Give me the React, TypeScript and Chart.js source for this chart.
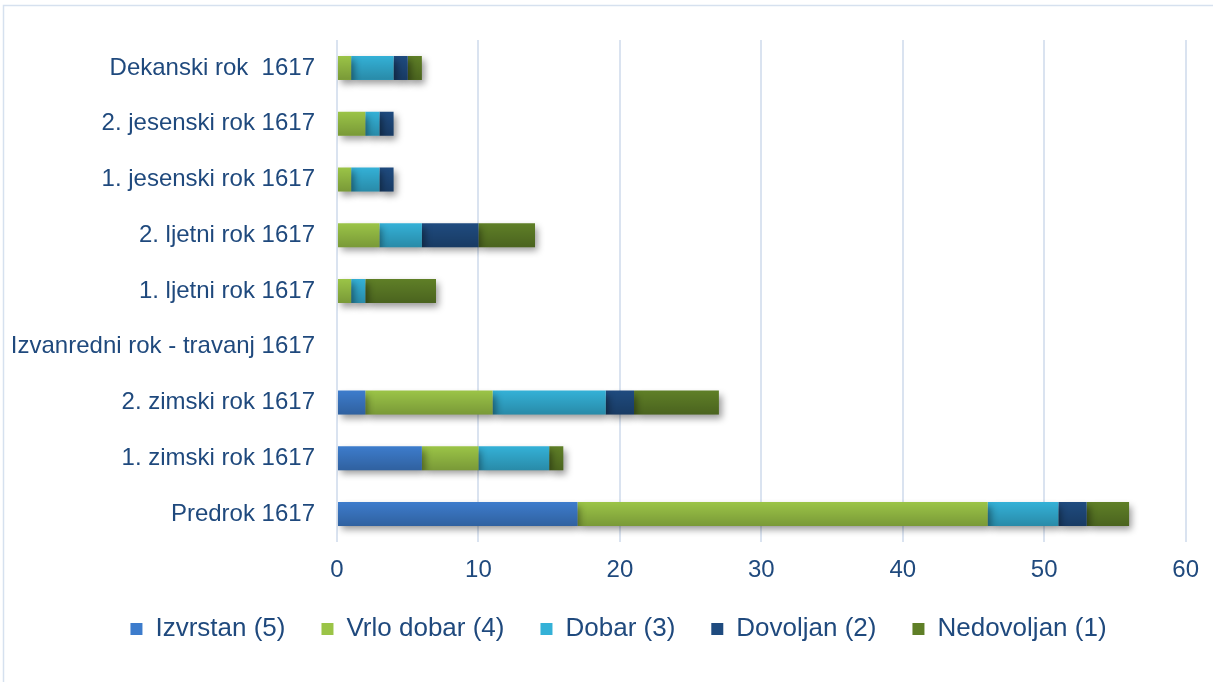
import React, { useEffect, useRef } from "react";
import { Chart, registerables } from "chart.js";

Chart.register(...registerables);

const categories = [
  "Dekanski rok  1617",
  "2. jesenski rok 1617",
  "1. jesenski rok 1617",
  "2. ljetni rok 1617",
  "1. ljetni rok 1617",
  "Izvanredni rok - travanj 1617",
  "2. zimski rok 1617",
  "1. zimski rok 1617",
  "Predrok 1617",
];
const seriesNames = ["Izvrstan (5)", "Vrlo dobar (4)", "Dobar (3)", "Dovoljan (2)", "Nedovoljan (1)"];
const izvrstan = [0, 0, 0, 0, 0, 0, 2, 6, 17];
const vrloDobar = [1, 2, 1, 3, 1, 0, 9, 4, 29];
const dobar = [3, 1, 2, 3, 1, 0, 8, 5, 5];
const dovoljan = [1, 1, 1, 4, 0, 0, 2, 0, 2];
const nedovoljan = [1, 0, 0, 4, 5, 0, 6, 1, 3];
const xMin = 0;
const xMax = 60;
const xStep = 10;

const colors = ["#3d7ccc", "#9bc447", "#34b1d7", "#1f4b7f", "#5f7f27"];
const TEXT = "#1F497D";
const FONT = "'Liberation Sans', Arial, sans-serif";

const framePlugin = {
  id: "frame",
  beforeDraw(chart: any) {
    const ctx = chart.ctx;
    ctx.save();
    ctx.strokeStyle = "#d6e1ef";
    ctx.lineWidth = 1.5;
    ctx.beginPath();
    ctx.moveTo(3.5, 700);
    ctx.lineTo(3.5, 5.5);
    ctx.lineTo(1300, 5.5);
    ctx.stroke();
    ctx.restore();
  },
};

const legendShiftPlugin = {
  id: "legendShift",
  afterLayout(chart: any) {
    if (chart.legend) chart.legend.left += 50;
  },
};

const shadowPlugin = {
  id: "barShadow",
  beforeDatasetsDraw(chart: any) {
    const ctx = chart.ctx;
    ctx.save();
    ctx.shadowColor = "rgba(0,0,0,0.4)";
    ctx.shadowBlur = 7;
    ctx.shadowOffsetX = 3;
    ctx.shadowOffsetY = 4;
  },
  afterDatasetsDraw(chart: any) {
    const ctx = chart.ctx;
    ctx.restore();
    ctx.save();
    chart.data.datasets.forEach((_: any, i: number) => {
      const meta = chart.getDatasetMeta(i);
      meta.data.forEach((el: any) => {
        const left = Math.min(el.x, el.base);
        const w = Math.abs(el.x - el.base);
        if (w < 0.5) return;
        const top = el.y - el.height / 2;
        const g = ctx.createLinearGradient(0, top, 0, top + el.height);
        g.addColorStop(0, "rgba(0,0,0,0)");
        g.addColorStop(1, "rgba(0,0,0,0.22)");
        ctx.fillStyle = g;
        ctx.fillRect(left, top, w, el.height);
      });
    });
    ctx.restore();
  },
};

export default function App() {
  const ref = useRef<HTMLCanvasElement>(null);

  useEffect(() => {
    document.body.style.margin = "0";
    const values = [izvrstan, vrloDobar, dobar, dovoljan, nedovoljan];
    const chart = new Chart(ref.current!, {
      type: "bar",
      data: {
        labels: categories,
        datasets: values.map((v, i) => ({
          label: seriesNames[i],
          data: v,
          backgroundColor: colors[i],
          borderWidth: 0,
          barPercentage: 0.43,
          categoryPercentage: 1,
        })),
      },
      options: {
        indexAxis: "y",
        responsive: false,
        animation: false,
        layout: { padding: { top: 40, right: 26, bottom: 30, left: 0 } },
        scales: {
          x: {
            stacked: true,
            min: xMin,
            max: xMax,
            ticks: { stepSize: xStep, color: TEXT, font: { family: FONT, size: 24 }, padding: 14 },
            grid: { color: "#dae3f0", lineWidth: 2, drawTicks: false },
            border: { display: false },
            afterFit(scale: any) {
              scale.height = 38;
            },
          },
          y: {
            stacked: true,
            ticks: { color: TEXT, font: { family: FONT, size: 24 }, padding: 22 },
            grid: { display: false, drawTicks: false },
            border: { display: false },
            afterFit(scale: any) {
              scale.width = 337;
            },
          },
        },
        plugins: {
          legend: {
            position: "bottom",
            labels: {
              color: TEXT,
              font: { family: FONT, size: 26 },
              boxWidth: 12,
              boxHeight: 12,
              padding: 36,
            },
          },
          tooltip: { enabled: false },
        },
      },
      plugins: [framePlugin, legendShiftPlugin, shadowPlugin],
    } as any);
    return () => chart.destroy();
  }, []);

  return (
    <div style={{ width: 1213, height: 682 }}>
      <canvas ref={ref} width={1213} height={682} style={{ width: 1213, height: 682, display: "block" }} />
    </div>
  );
}
